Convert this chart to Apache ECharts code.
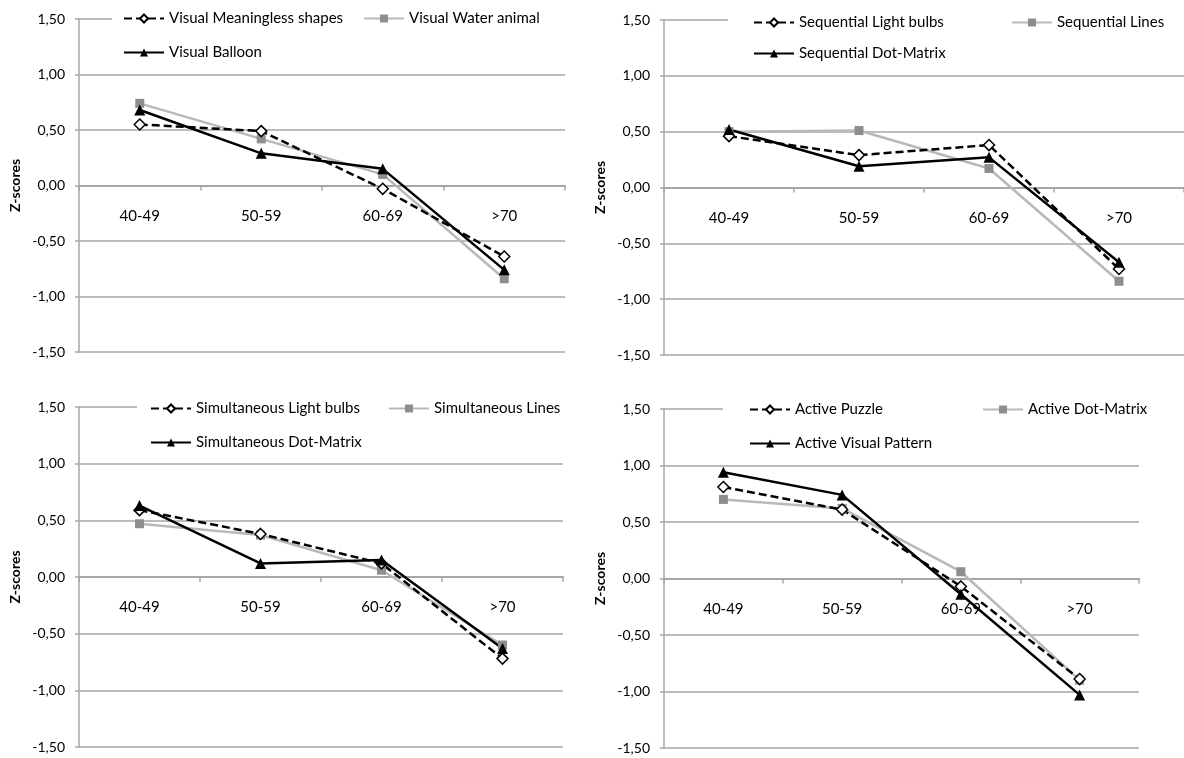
<!DOCTYPE html>
<html>
<head>
<meta charset="utf-8">
<script src="https://cdn.jsdelivr.net/npm/echarts@6/dist/echarts.min.js"></script>
<style>
  html, body { margin: 0; padding: 0; background: #fff; }
  #main { width: 1184px; height: 758px; }
</style>
</head>
<body>
<div id="main"></div>
<script>
// age groups on the x axis
var categories = ['40-49', '50-59', '60-69', '>70'];

// top left: visual
var visualNames = ['Visual Meaningless shapes', 'Visual Water animal', 'Visual Balloon'];
var visualShapes = [0.55, 0.49, -0.03, -0.64];
var visualWater = [0.74, 0.42, 0.10, -0.84];
var visualBalloon = [0.68, 0.29, 0.15, -0.76];

// top right: sequential
var seqNames = ['Sequential Light bulbs', 'Sequential Lines', 'Sequential Dot-Matrix'];
var seqBulbs = [0.46, 0.29, 0.38, -0.73];
var seqLines = [0.50, 0.51, 0.17, -0.84];
var seqDots = [0.52, 0.19, 0.27, -0.67];

// bottom left: simultaneous
var simNames = ['Simultaneous Light bulbs', 'Simultaneous Lines', 'Simultaneous Dot-Matrix'];
var simBulbs = [0.59, 0.38, 0.12, -0.72];
var simLines = [0.47, 0.37, 0.06, -0.60];
var simDots = [0.63, 0.12, 0.15, -0.63];

// bottom right: active
var actNames = ['Active Puzzle', 'Active Dot-Matrix', 'Active Visual Pattern'];
var actPuzzle = [0.81, 0.61, -0.07, -0.89];
var actDots = [0.70, 0.62, 0.06, -0.90];
var actPattern = [0.94, 0.74, -0.14, -1.03];

var FONT = 'Lato';
var GRIDCOL = '#a6a6a6';
var H = 758;

// layout of each panel (grid, legend item spots, white box under legend)
var panels = [
    {names: visualNames, data: [visualShapes, visualWater, visualBalloon],
     grid: {left: 79, right: 619, top: 19, bottom: 406}, nameGap: 57,
     leg: [[123, 18], [363, 18], [123, 52]], cover: [112, 11, 454, 17]},
    {names: seqNames, data: [seqBulbs, seqLines, seqDots],
     grid: {left: 664, right: -8, top: 20, bottom: 403}, nameGap: 57,
     leg: [[753, 22], [1011, 22], [753, 53]], cover: [728, 12, 456, 17]},
    {names: simNames, data: [simBulbs, simLines, simDots],
     grid: {left: 79, right: 621, top: 407, bottom: 11}, nameGap: 57,
     leg: [[150, 408], [388, 408], [150, 442]], cover: [137, 399, 428, 17]},
    {names: actNames, data: [actPuzzle, actDots, actPattern],
     grid: {left: 664, right: 45, top: 409, bottom: 10}, nameGap: 57,
     leg: [[749, 409], [982, 409], [749, 443]], cover: [723, 401, 418, 17]}
];

function fmt(v){
    return v.toFixed(2).replace('.', ',');
}

var option = {
    animation: false,
    backgroundColor: '#fff',
    grid: [], xAxis: [], yAxis: [], series: [], legend: [], graphic: []
};

for (var p = 0; p < panels.length; p++) {
    var pn = panels[p];
    option.grid.push(pn.grid);
    // y range is symmetric, so the zero line sits at half the grid height
    var gridH = H - pn.grid.top - pn.grid.bottom;
    option.xAxis.push({
        type: 'category', gridIndex: p, data: categories, boundaryGap: true,
        position: 'bottom', offset: -gridH / 2,
        axisLine: {onZero: false, lineStyle: {color: GRIDCOL, width: 2}},
        axisTick: {show: true, length: 5, lineStyle: {color: GRIDCOL, width: 1.5}},
        axisLabel: {margin: 23, fontSize: 15, color: '#000', fontFamily: FONT},
        splitLine: {show: false}
    });
    option.yAxis.push({
        type: 'value', gridIndex: p, min: -1.5, max: 1.5, interval: 0.5,
        name: 'Z-scores', nameLocation: 'middle', nameRotate: 90, nameGap: pn.nameGap,
        nameTextStyle: {fontWeight: 'bold', fontSize: 14, color: '#000', fontFamily: FONT},
        axisLine: {show: true, onZero: false, lineStyle: {color: GRIDCOL, width: 1.5}},
        axisTick: {show: true, length: 4, lineStyle: {color: GRIDCOL, width: 1.5}},
        axisLabel: {margin: 14, fontSize: 14, color: '#000', fontFamily: FONT, formatter: fmt},
        splitLine: {show: true, lineStyle: {color: GRIDCOL, width: 1.5}}
    });

    // gray line first so black ones sit on top
    option.series.push({
        name: pn.names[1], type: 'line', xAxisIndex: p, yAxisIndex: p, data: pn.data[1],
        symbol: 'rect', symbolSize: 9,
        itemStyle: {color: '#8e8e8e'},
        lineStyle: {color: '#b9b9b9', width: 2.5}
    });
    option.series.push({
        name: pn.names[0], type: 'line', xAxisIndex: p, yAxisIndex: p, data: pn.data[0],
        symbol: 'diamond', symbolSize: 11,
        itemStyle: {color: '#fff', borderColor: '#000', borderWidth: 1.5},
        lineStyle: {color: '#000', width: 2.5, type: [8, 4]}
    });
    option.series.push({
        name: pn.names[2], type: 'line', xAxisIndex: p, yAxisIndex: p, data: pn.data[2],
        symbol: 'triangle', symbolSize: 11,
        itemStyle: {color: '#000'},
        lineStyle: {color: '#000', width: 2.5}
    });

    for (var k = 0; k < 3; k++) {
        option.legend.push({
            data: [pn.names[k]], left: pn.leg[k][0], top: pn.leg[k][1] - 7,
            padding: 0, itemWidth: 40, itemHeight: 10, itemGap: 0,
            textStyle: {fontSize: 15, color: '#000', fontFamily: FONT}
        });
    }

    // white box of the legend hides the top grid line
    option.graphic.push({
        type: 'rect', z: 1, silent: true,
        shape: {x: pn.cover[0], y: pn.cover[1], width: pn.cover[2], height: pn.cover[3]},
        style: {fill: '#fff'}
    });
}

var myChart = echarts.init(document.getElementById('main'));
myChart.setOption(option);
</script>
</body>
</html>
